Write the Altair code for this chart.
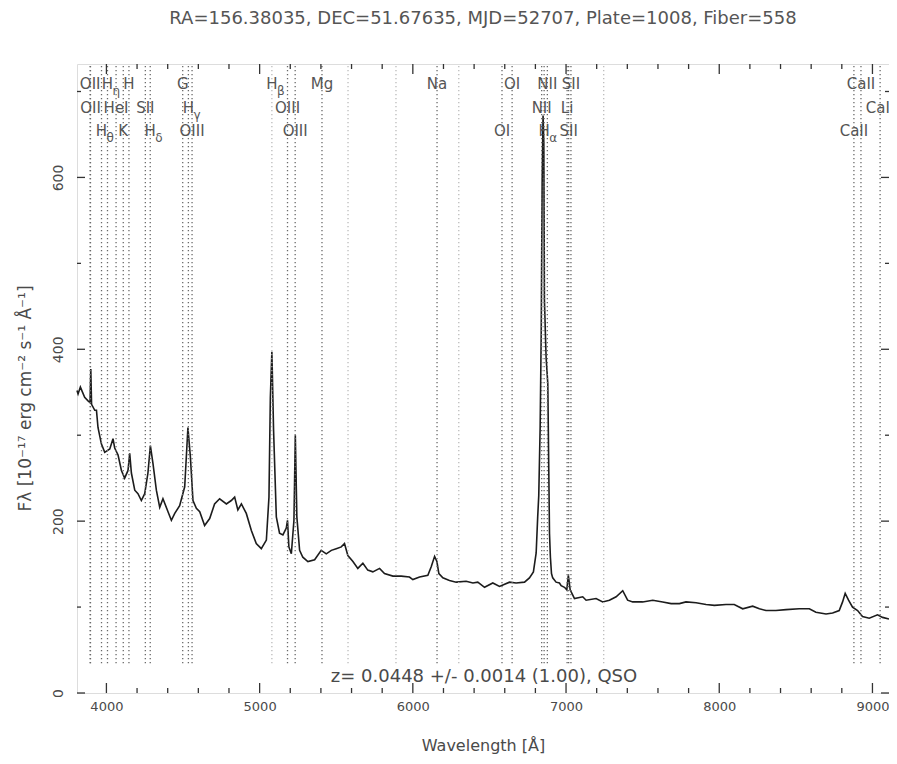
import altair as alt
import pandas as pd

# ---- spectrum (observed wavelength in Angstrom, flux in 1e-17 erg/cm2/s/A) ----
wave = [3808, 3815, 3830, 3858, 3880, 3893, 3898, 3903, 3924, 3935, 3945, 3967, 3989,
        4022, 4043, 4054, 4076, 4098, 4119, 4141, 4152, 4163, 4185, 4206, 4228, 4250,
        4271, 4287, 4304, 4326, 4348, 4369, 4402, 4424, 4446, 4478, 4511, 4532, 4548,
        4565, 4587, 4609, 4641, 4674, 4706, 4739, 4783, 4815, 4837, 4858, 4881, 4913,
        4946, 4978, 5011, 5044, 5061, 5070, 5080, 5091, 5109, 5130, 5152, 5174, 5182,
        5191, 5207, 5224, 5233, 5243, 5261, 5282, 5315, 5359, 5402, 5435, 5468, 5500,
        5533, 5554, 5576, 5609, 5641, 5674, 5706, 5739, 5783, 5815, 5870, 5924, 5978,
        6000, 6044, 6098, 6120, 6142, 6157, 6170, 6196, 6239, 6283, 6348, 6392, 6424,
        6468, 6522, 6566, 6631, 6674, 6729, 6761, 6787, 6805, 6815, 6822, 6831, 6838,
        6844, 6850, 6855, 6859, 6870, 6881, 6888, 6892, 6898, 6905, 6913, 6935, 6957,
        6968, 6990, 7005, 7015, 7027, 7044, 7055, 7109, 7131, 7196, 7239, 7283, 7327,
        7370, 7402, 7435, 7500, 7566, 7631, 7686, 7740, 7783, 7849, 7914, 7968, 8044,
        8098, 8153, 8218, 8262, 8305, 8370, 8436, 8522, 8588, 8631, 8697, 8740, 8783,
        8805, 8822, 8844, 8870, 8903, 8935, 8979, 9033, 9066, 9108]
flux = [352, 348, 356, 344, 340, 338, 377, 336, 329, 329, 309, 290, 280,
        284, 296, 285, 277, 259, 250, 259, 279, 256, 236, 232, 224, 232,
        256, 288, 267, 236, 216, 226, 211, 201, 209, 218, 240, 309, 275,
        224, 215, 211, 195, 203, 220, 226, 220, 224, 228, 213, 220, 209,
        189, 174, 168, 178, 228, 344, 397, 306, 205, 186, 184, 192, 201,
        170, 162, 201, 300, 205, 166, 158, 153, 155, 166, 162, 166, 168,
        170, 174, 160, 153, 145, 151, 143, 141, 145, 139, 136, 136, 135,
        132, 135, 137, 147, 159, 153, 139, 134, 131, 129, 130, 128, 129,
        123, 128, 124, 129, 128, 129, 134, 141, 163, 205, 230, 309, 418,
        593, 672, 640, 457, 390, 360, 250, 186, 158, 139, 134, 129, 128,
        125, 123, 120, 137, 120, 114, 110, 112, 108, 110, 106, 108, 112,
        119, 108, 106, 106, 108, 106, 104, 104, 106, 105, 103, 102, 103,
        103, 98, 101, 98, 96, 96, 97, 98, 98, 94, 92, 93, 96,
        106, 116, 108, 100, 96, 89, 87, 91, 88, 86]

# ---- marked spectral lines (observed wavelength) ----
line_waves = [3894, 3896, 3968, 4007, 4063, 4110, 4147, 4254, 4286, 4498, 4535, 4559,
              5182, 5232, 5407, 6158, 6582, 6648, 6841, 6857, 6878, 7007, 7017, 7032,
              8879, 8925, 9050]
faint_waves = [5080, 5577, 5890, 6300, 7246]

label_waves = [3894, 4007, 4147, 4498, 5080, 5407, 6158, 6648, 6878, 7032, 8925,
               3896, 4063, 4254, 4535, 5182, 6841, 7007, 9050,
               3968, 4110, 4286, 4559, 5232, 6582, 6857, 7017, 8879]
label_texts = ["OII", "H", "H", "G", "H", "Mg", "Na", "OI", "NII", "SII", "CaII",
               "OII", "HeI", "SII", "H", "OIII", "NII", "Li", "CaII",
               "H", "K", "H", "OIII", "OIII", "OI", "H", "SII", "CaII"]
label_subs = ["", "η", "", "", "β", "", "", "", "", "", "",
              "", "", "", "γ", "", "", "", "",
              "θ", "", "δ", "", "", "", "α", "", ""]
label_rows = [1] * 11 + [2] * 8 + [3] * 9

x_major = [4000, 5000, 6000, 7000, 8000, 9000]
x_minor = [4200, 4400, 4600, 4800, 5200, 5400, 5600, 5800, 6200, 6400, 6600, 6800,
           7200, 7400, 7600, 7800, 8200, 8400, 8600, 8800]
y_major = [0, 200, 400, 600]
y_minor = [100, 300, 500, 700]

title_text = "RA=156.38035, DEC=51.67635, MJD=52707, Plate=1008, Fiber=558"
z_text = "z= 0.0448 +/- 0.0014 (1.00), QSO"

W, H = 812, 629
FONT = "DejaVu Sans"
TXT = "#4a4a4a"

spec = pd.DataFrame({"wave": wave, "flux": flux})
lines_df = pd.DataFrame({"wave": line_waves})
faint_df = pd.DataFrame({"wave": faint_waves})
labels_df = pd.DataFrame({"wave": label_waves, "text": label_texts,
                          "sub": label_subs, "row": label_rows})

xscale = alt.Scale(domain=[3808, 9108], nice=False, zero=False)
yscale = alt.Scale(domain=[0, 732], nice=False, zero=False)

xaxis = alt.Axis(values=x_major, format="d", title="Wavelength [Å]", ticks=False,
                 domain=False, grid=False, labelFont=FONT, labelFontSize=13,
                 labelColor=TXT, labelPadding=7, titleFont=FONT, titleFontSize=16,
                 titleFontWeight="normal", titleColor=TXT, titleY=52,
                 titleBaseline="middle")
yaxis = alt.Axis(values=y_major, format="d",
                 title="Fλ [10⁻¹⁷ erg cm⁻² s⁻¹ Å⁻¹]", ticks=False,
                 domain=False, grid=False, labelFont=FONT, labelFontSize=14,
                 labelColor=TXT, labelAngle=270, labelAlign="center",
                 labelBaseline="bottom", labelPadding=12, titleFont=FONT,
                 titleFontSize=17, titleFontWeight="normal", titleColor=TXT,
                 titleAngle=270, titleX=-52, titleY=334, titleAlign="center",
                 titleBaseline="middle")

X = lambda f: alt.X(f, scale=xscale, axis=xaxis)
Y = lambda f: alt.Y(f, scale=yscale, axis=yaxis)

spectrum = alt.Chart(spec).mark_line(color="#1c1c1c", strokeWidth=1.6).encode(
    x=X("wave:Q"), y=Y("flux:Q"), order="wave:Q")

dotted = alt.Chart(lines_df).mark_rule(color="#6a6a6a", strokeWidth=1.3,
                                       strokeDash=[1.2, 2.8]).encode(
    x=X("wave:Q"), y=alt.value(2), y2=alt.value(600))
faint = alt.Chart(faint_df).mark_rule(color="#b5b5b5", strokeWidth=1.2,
                                      strokeDash=[1.2, 2.8]).encode(
    x=X("wave:Q"), y=alt.value(2), y2=alt.value(600))

row_y = {1: 20, 2: 44, 3: 67}
label_layers = []
for r, yy in row_y.items():
    base = alt.Chart(labels_df).transform_filter(alt.datum.row == r)
    label_layers.append(base.mark_text(font=FONT, fontSize=15, color="#555",
                                       align="center", baseline="middle").encode(
        x=X("wave:Q"), y=alt.value(yy), text="text:N"))
    label_layers.append(base.transform_filter(alt.datum.sub != "").mark_text(
        font=FONT, fontSize=12, color="#555", align="left", baseline="middle",
        dx=5, dy=7).encode(x=X("wave:Q"), y=alt.value(yy), text="sub:N"))

def tick_layer(vals, horizontal, length, side):
    df = pd.DataFrame({"v": vals})
    m = alt.Chart(df).mark_rule(color="#333", strokeWidth=1.3)
    if not horizontal:
        if side == "bottom":
            return m.encode(x=X("v:Q"), y=alt.value(H), y2=alt.value(H - length))
        return m.encode(x=X("v:Q"), y=alt.value(0), y2=alt.value(length))
    if side == "left":
        return m.encode(y=Y("v:Q"), x=alt.value(0), x2=alt.value(length))
    return m.encode(y=Y("v:Q"), x=alt.value(W), x2=alt.value(W - length))

ticks = [
    tick_layer(x_major, False, 10, "bottom"), tick_layer(x_minor, False, 5, "bottom"),
    tick_layer(x_major, False, 10, "top"), tick_layer(x_minor, False, 5, "top"),
    tick_layer(y_major, True, 8, "left"), tick_layer(y_minor, True, 4, "left"),
    tick_layer(y_major, True, 8, "right"), tick_layer(y_minor, True, 4, "right"),
]

ztext = alt.Chart(pd.DataFrame({"t": [z_text]})).mark_text(
    font=FONT, fontSize=18, color=TXT, align="center", baseline="middle").encode(
    x=alt.value(407), y=alt.value(613), text="t:N")

chart = alt.layer(spectrum, faint, dotted, *label_layers, *ticks, ztext).properties(
    width=W, height=H,
    title=alt.TitleParams(title_text, font=FONT, fontSize=18, fontWeight="normal",
                          color="#555", anchor="middle", offset=35),
    autosize=alt.AutoSizeParams(type="none"),
    padding={"left": 69, "top": 56, "right": 0, "bottom": 63},
).configure_view(stroke="#333", strokeWidth=1.5).configure(background="white")

chart.save("out.html", embed_options={"renderer": "svg", "actions": False})
